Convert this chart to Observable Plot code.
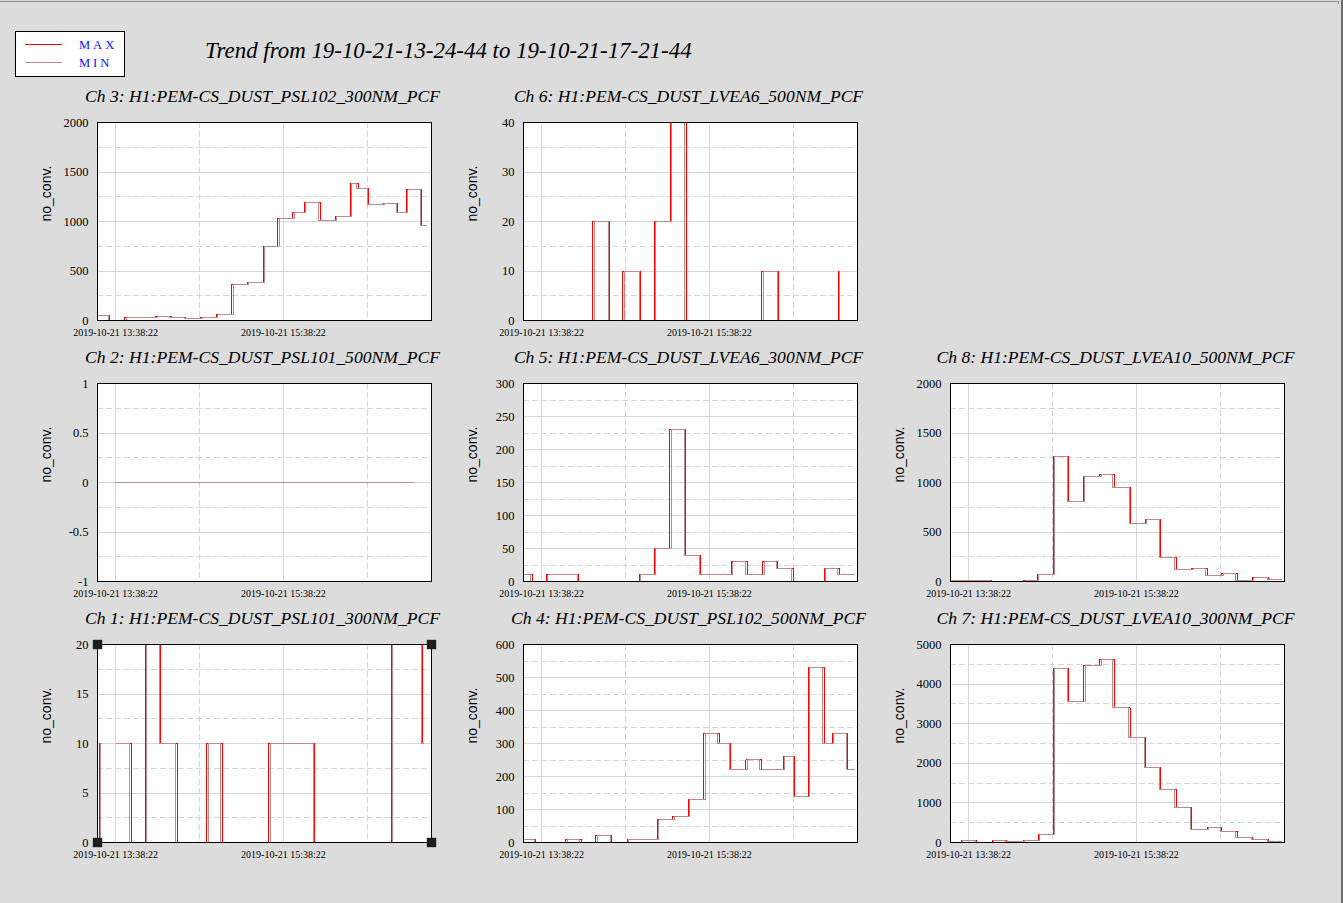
<!DOCTYPE html>
<html><head><meta charset="utf-8">
<script src="https://cdn.jsdelivr.net/npm/d3@7"></script>
<script src="https://cdn.jsdelivr.net/npm/@observablehq/plot@0.6"></script>
<style>
body{margin:0;background:#dcdcdc;}
#page{position:relative;width:1343px;height:903px;background:#dcdcdc;overflow:hidden;}
.panel{position:absolute;}
</style></head><body><div id="page"></div>
<script>
// ---- shared axis data (minutes since 2019-10-21 13:38:22) ----
const xDomain = [-12.9, 225.8];
const xTickTimes = [0, 120];
const xTickLabels = ["2019-10-21 13:38:22", "2019-10-21 15:38:22"];
const xGridSolid = [0, 120];
const xGridDashed = [60, 180];

const mainTitle = "Trend from 19-10-21-13-24-44 to 19-10-21-17-21-44";
const legendLabels = ["MAX", "MIN"];
const yLabel = "no_conv.";

// ---- Ch 3 ----
const ch3Title = "Ch 3: H1:PEM-CS_DUST_PSL102_300NM_PCF";
const ch3Ticks = [0, 500, 1000, 1500, 2000];
const ch3T    = [-12.9, -4.3, 6.5, 28.7, 39.9, 50.2, 61, 72.2, 83, 94.2, 105.7, 116, 126.7, 134.8, 146.3, 157, 167.8, 173.3, 181, 191.3, 201.8, 208, 218.7, 222.3];
const ch3TMin = [-12.9, -5.3, 7.5, 29.7, 38.9, 49.2, 62, 73.2, 84, 95.2, 106.7, 117, 127.7, 135.8, 145.3, 158, 168.8, 172.3, 180, 192.3, 200.8, 209, 217.7, 222.3];
const ch3V    = [47, 5, 27, 37, 27, 17, 27, 57, 361, 381, 752, 1029, 1089, 1190, 1008, 1049, 1383, 1332, 1174, 1180, 1090, 1322, 958, 958];

// ---- Ch 6 ----
const ch6Title = "Ch 6: H1:PEM-CS_DUST_LVEA6_500NM_PCF";
const ch6Ticks = [0, 10, 20, 30, 40];
const ch6T    = [-12.9, 36.6, 48.6, 58.2, 70.7, 80.5, 92.2, 103.5, 157.4, 169.3, 212, 213.6];
const ch6TMin = [-12.9, 37.6, 47.6, 59.2, 69.7, 81.5, 93.2, 102.5, 158.4, 168.3, 213, 213.6];
const ch6V    = [0, 20, 0, 10, 0, 20, 45, 0, 10, 0, 10, 10];

// ---- Ch 2 ----
const ch2Title = "Ch 2: H1:PEM-CS_DUST_PSL101_500NM_PCF";
const ch2Ticks = [-1, -0.5, 0, 0.5, 1];
const ch2T    = [0, 213];
const ch2TMin = [0, 213];
const ch2V    = [0, 0];

// ---- Ch 5 ----
const ch5Title = "Ch 5: H1:PEM-CS_DUST_LVEA6_300NM_PCF";
const ch5Ticks = [0, 50, 100, 150, 200, 250, 300];
const ch5T    = [-12.9, -6.7, 3.6, 26.6, 69.7, 80.7, 91.7, 103, 113.8, 135.8, 147, 158, 168.9, 179.9, 201.9, 212.7, 223.5];
const ch5TMin = [-12.9, -7.7, 4.6, 25.6, 70.7, 81.7, 92.7, 102, 112.8, 136.8, 146, 159, 167.9, 178.9, 202.9, 211.7, 223.5];
const ch5V    = [10, 0, 10, 0, 10, 50, 230, 40, 10, 30, 10, 30, 20, 0, 20, 10, 10];

// ---- Ch 8 ----
const ch8Title = "Ch 8: H1:PEM-CS_DUST_LVEA10_500NM_PCF";
const ch8Ticks = [0, 500, 1000, 1500, 2000];
const ch8T    = [-12.9, 16.8, 39.5, 49.1, 60.4, 71.4, 81.9, 93.7, 104.2, 115.7, 126.5, 137.5, 148.5, 159.5, 170.5, 181, 192, 203, 214.4, 223.5];
const ch8TMin = [-12.9, 15.8, 40.5, 50.1, 61.4, 70.4, 82.9, 94.7, 103.2, 114.7, 127.5, 136.5, 147.5, 160.5, 169.5, 182, 191, 204, 213.4, 223.5];
const ch8V    = [7, 0, 7, 71, 1264, 807, 1061, 1081, 949, 584, 625, 240, 118, 128, 57, 78, 7, 37, 17, 17];

// ---- Ch 1 ----
const ch1Title = "Ch 1: H1:PEM-CS_DUST_PSL101_300NM_PCF";
const ch1Ticks = [0, 5, 10, 15, 20];
const ch1T    = [-12.9, -11.5, -11.0, -10.9, 0.5, 11.3, 21.3, 32.3, 44.1, 65.1, 76.2, 109.5, 142.5, 196.9, 219.6, 220.2];
const ch1TMin = [-12.9, -10.5, -10.2, -10.1, 0.5, 10.3, 22.3, 31.3, 43.1, 66.1, 75.2, 110.5, 141.5, 197.9, 218.6, 220.2];
const ch1V    = [0, 10, 10, NaN, 10, 0, 25, 10, 0, 10, 0, 10, 0, 25, 10, 10];

// ---- Ch 4 ----
const ch4Title = "Ch 4: H1:PEM-CS_DUST_PSL102_500NM_PCF";
const ch4Ticks = [0, 100, 200, 300, 400, 500, 600];
const ch4T    = [-12.9, -4.3, 17.2, 28.3, 38.8, 50.3, 61.1, 82.9, 93.9, 104.9, 115.9, 126.9, 135.3, 146.1, 156.9, 172.9, 180.8, 190.6, 201.9, 207.9, 218.9, 223.5];
const ch4TMin = [-12.9, -5.3, 18.2, 27.3, 39.8, 49.3, 62.1, 83.9, 94.9, 105.9, 116.9, 125.9, 134.3, 147.1, 155.9, 173.9, 179.8, 191.6, 200.9, 208.9, 217.9, 223.5];
const ch4V    = [8, 0, 8, 0, 21, 0, 8, 69, 79, 130, 330, 300, 221, 251, 221, 260, 139, 531, 300, 330, 221, 221];

// ---- Ch 7 ----
const ch7Title = "Ch 7: H1:PEM-CS_DUST_LVEA10_300NM_PCF";
const ch7Ticks = [0, 1000, 2000, 3000, 4000, 5000];
const ch7T    = [-12.9, -5.3, 6, 16.8, 27.5, 39, 49.8, 60.4, 71.4, 82.4, 93.7, 104.2, 115.4, 126.5, 137.5, 148.5, 159.5, 170.5, 181, 192, 203, 214.4, 223.5];
const ch7TMin = [-12.9, -4.3, 5, 17.8, 26.5, 40, 50.8, 61.4, 70.4, 83.4, 94.7, 103.2, 114.4, 125.5, 136.5, 147.5, 158.5, 171.5, 180, 191, 202, 213.4, 223.5];
const ch7V    = [0, 42, 0, 42, 17, 42, 202, 4393, 3558, 4469, 4620, 3406, 2647, 1889, 1332, 877, 320, 371, 270, 118, 67, 34, 34];

// ---- styling / layout ----
const MAXC = "#ff0000", MINC = "#bf8a8a", GRID = "#d6d6d6";
const colLeft = [97, 523, 950];
const rowTop = [121.5, 382.5, 643.5];
const PW = 334, PH = 198, ML = 60, MR = 10, MT = 36, MB = 25;

const panels = [
  {title: ch3Title, ticks: ch3Ticks, t: ch3T, tMin: ch3TMin, v: ch3V, row: 0, col: 0},
  {title: ch6Title, ticks: ch6Ticks, t: ch6T, tMin: ch6TMin, v: ch6V, row: 0, col: 1},
  {title: ch2Title, ticks: ch2Ticks, t: ch2T, tMin: ch2TMin, v: ch2V, row: 1, col: 0},
  {title: ch5Title, ticks: ch5Ticks, t: ch5T, tMin: ch5TMin, v: ch5V, row: 1, col: 1},
  {title: ch8Title, ticks: ch8Ticks, t: ch8T, tMin: ch8TMin, v: ch8V, row: 1, col: 2},
  {title: ch1Title, ticks: ch1Ticks, t: ch1T, tMin: ch1TMin, v: ch1V, row: 2, col: 0, handles: true},
  {title: ch4Title, ticks: ch4Ticks, t: ch4T, tMin: ch4TMin, v: ch4V, row: 2, col: 1},
  {title: ch7Title, ticks: ch7Ticks, t: ch7T, tMin: ch7TMin, v: ch7V, row: 2, col: 2},
];

const page = document.getElementById("page");

// header: border, legend, main title
const NS = "http://www.w3.org/2000/svg";
const hdr = document.createElementNS(NS, "svg");
hdr.setAttribute("width", 1343); hdr.setAttribute("height", 903);
hdr.style.position = "absolute"; hdr.style.left = "0"; hdr.style.top = "0";
hdr.innerHTML = `
  <line x1="0" y1="1.5" x2="1338" y2="1.5" stroke="#8a8a8a"/>
  <line x1="1338.5" y1="1" x2="1338.5" y2="4" stroke="#8a8a8a"/>
  <rect x="1341" y="0" width="2" height="903" fill="#6e6e6e"/>
  <rect x="15.5" y="31.5" width="109" height="45" fill="white" stroke="black"/>
  <line x1="25" y1="44.5" x2="62" y2="44.5" stroke="${MAXC}"/>
  <line x1="25" y1="62.5" x2="62" y2="62.5" stroke="${MINC}"/>
  <text x="79" y="49" fill="#1010ff" font-family="Liberation Serif" font-size="12.5" letter-spacing="3">${legendLabels[0]}</text>
  <text x="79" y="67" fill="#1010ff" font-family="Liberation Serif" font-size="12.5" letter-spacing="3">${legendLabels[1]}</text>
  <text x="205" y="58" fill="black" font-family="Liberation Serif" font-style="italic" font-size="22.9">${mainTitle}</text>`;
page.appendChild(hdr);

for (const p of panels) {
  const yMajor = p.ticks;
  const step = yMajor[1] - yMajor[0];
  const yMinor = yMajor.slice(1).map(v => v - step / 2);
  const yDom = [yMajor[0], yMajor[yMajor.length - 1]];
  const maxRows = p.t.map((t, i) => ({t, v: p.v[i]}));
  const minRows = p.tMin.map((t, i) => ({t, v: p.v[i]}));
  const corners = p.handles ? [[xDomain[0], yDom[0]], [xDomain[0], yDom[1]], [xDomain[1], yDom[0]], [xDomain[1], yDom[1]]] : [];
  const chart = Plot.plot({
    width: ML + PW + MR, height: MT + PH + MB,
    marginLeft: ML, marginRight: MR, marginTop: MT, marginBottom: MB,
    style: {background: "transparent", overflow: "visible", fontFamily: "'Liberation Serif', serif", color: "black"},
    x: {domain: xDomain},
    y: {domain: yDom},
    marks: [
      Plot.frame({fill: "white", stroke: null}),
      Plot.ruleY(yMinor, {stroke: GRID, strokeDasharray: "6,3", shapeRendering: "crispEdges"}),
      Plot.ruleY(yMajor, {stroke: GRID, shapeRendering: "crispEdges"}),
      Plot.ruleX(xGridDashed, {stroke: GRID, strokeDasharray: "6,3", shapeRendering: "crispEdges"}),
      Plot.ruleX(xGridSolid, {stroke: GRID, shapeRendering: "crispEdges"}),
      Plot.line(maxRows, {x: "t", y: "v", curve: "step-after", stroke: MAXC, strokeWidth: 1, clip: true, shapeRendering: "crispEdges"}),
      Plot.line(minRows, {x: "t", y: "v", curve: "step-after", stroke: MINC, strokeWidth: 1, clip: true, shapeRendering: "crispEdges"}),
      Plot.frame({stroke: "black", shapeRendering: "crispEdges"}),
      Plot.dot(corners, {x: d => d[0], y: d => d[1], symbol: "square", r: 5.3, fill: "#1e1e1e", stroke: null}),
      Plot.axisY(yMajor, {tickSize: 0, tickPadding: 9, tickFormat: d => String(d), fontSize: 12.5, label: null}),
      Plot.axisX(xTickTimes, {tickSize: 0, tickPadding: 8, tickFormat: d => xTickLabels[xTickTimes.indexOf(d)], fontSize: 10, label: null}),
      Plot.text([yLabel], {frameAnchor: "left", dx: -51, rotate: -90, fontSize: 14, fontFamily: "'Liberation Sans', sans-serif"}),
      Plot.text([p.title], {frameAnchor: "top", dy: -33, fontSize: 17.6, fontStyle: "italic", dx: -2})
    ]
  });
  chart.classList.add("panel");
  chart.style.left = (colLeft[p.col] - ML) + "px";
  chart.style.top = (rowTop[p.row] - MT) + "px";
  page.appendChild(chart);
}
</script></body></html>
